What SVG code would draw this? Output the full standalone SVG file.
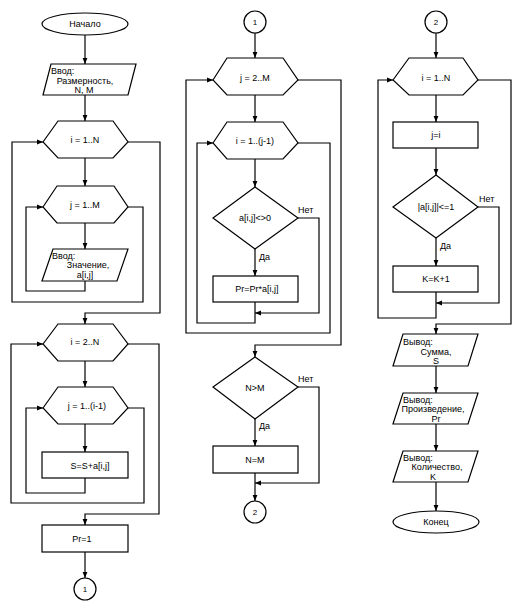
<svg xmlns="http://www.w3.org/2000/svg" width="521" height="611" viewBox="0 0 521 611">
<style>
.s{fill:#fff;stroke:#000;stroke-width:1.2}
.c{fill:none;stroke:#000;stroke-width:1.2}
text{font-family:"Liberation Sans",Arial,sans-serif;font-size:9px;fill:#000}
.m{text-anchor:middle}
</style>
<defs>
<marker id="a" markerWidth="6" markerHeight="6" refX="6" refY="3" orient="auto" markerUnits="userSpaceOnUse"><path d="M0,0.6 L6,3 L0,5.4Z" fill="#000"/></marker>
</defs>
<rect width="521" height="611" fill="#fff"/>
<g id="connectors">
<!-- left column -->
<polyline class="c" points="85,35 85,64" marker-end="url(#a)"/>
<polyline class="c" points="85,95 85,121" marker-end="url(#a)"/>
<polyline class="c" points="85,158 85,186" marker-end="url(#a)"/>
<polyline class="c" points="85,223 85,249" marker-end="url(#a)"/>
<polyline class="c" points="85,281 85,291 26,291 26,207 43,207" marker-end="url(#a)"/>
<polyline class="c" points="128,207 143,207 143,302 12,302 12,142 43,142" marker-end="url(#a)"/>
<polyline class="c" points="128,142 160,142 160,313 85,313 85,324" marker-end="url(#a)"/>
<polyline class="c" points="85,361 85,387" marker-end="url(#a)"/>
<polyline class="c" points="85,424 85,452" marker-end="url(#a)"/>
<polyline class="c" points="85,478 85,493 26,493 26,408 43,408" marker-end="url(#a)"/>
<polyline class="c" points="128,408 144,408 144,503 11,503 11,344 43,344" marker-end="url(#a)"/>
<polyline class="c" points="128,344 159,344 159,514 85,514 85,525" marker-end="url(#a)"/>
<polyline class="c" points="85,552 85,578" marker-end="url(#a)"/>
<!-- middle column -->
<polyline class="c" points="255,33 255,58" marker-end="url(#a)"/>
<polyline class="c" points="255,95 255,122" marker-end="url(#a)"/>
<polyline class="c" points="255,159 255,187" marker-end="url(#a)"/>
<polyline class="c" points="255,249 255,276" marker-end="url(#a)"/>
<polyline class="c" points="298,218 319,218 319,313 255,313" marker-end="url(#a)"/>
<polyline class="c" points="255,302 255,323 197,323 197,143 213,143" marker-end="url(#a)"/>
<polyline class="c" points="298,143 330,143 330,333 186,333 186,80 213,80" marker-end="url(#a)"/>
<polyline class="c" points="298,80 341,80 341,345 255,345 255,357" marker-end="url(#a)"/>
<polyline class="c" points="255,419 255,446" marker-end="url(#a)"/>
<polyline class="c" points="298,387 319,387 319,483 255,483" marker-end="url(#a)"/>
<polyline class="c" points="255,473 255,501" marker-end="url(#a)"/>
<!-- right column -->
<polyline class="c" points="436,33 436,58" marker-end="url(#a)"/>
<polyline class="c" points="436,95 436,122" marker-end="url(#a)"/>
<polyline class="c" points="436,148 436,175" marker-end="url(#a)"/>
<polyline class="c" points="436,238 436,266" marker-end="url(#a)"/>
<polyline class="c" points="478,207 499,207 499,303 436,303" marker-end="url(#a)"/>
<polyline class="c" points="436,292 436,318 378,318 378,80 393,80" marker-end="url(#a)"/>
<polyline class="c" points="478,80 511,80 511,324 436,324 436,334" marker-end="url(#a)"/>
<polyline class="c" points="436,366 436,393" marker-end="url(#a)"/>
<polyline class="c" points="436,424 436,451" marker-end="url(#a)"/>
<polyline class="c" points="436,482 436,511" marker-end="url(#a)"/>
<text x="298" y="213">Нет</text>
<text x="259" y="260">Да</text>
<text x="298" y="382">Нет</text>
<text x="259" y="429">Да</text>
<text x="479" y="202">Нет</text>
<text x="440" y="249">Да</text>
</g>
<!-- left column nodes -->
<g id="start"><ellipse class="s" cx="85" cy="24" rx="43" ry="11"/><text class="m" x="85" y="27">Начало</text></g>
<g id="input1"><polygon class="s" points="51,64 136,64 128,95 43,95"/><text x="51" y="74">Ввод:</text><text class="m" x="85" y="84">Размерность,</text><text class="m" x="84" y="93">N, M</text></g>
<g id="loopI1"><polygon class="s" points="43,142 58,121 113,121 128,142 113,158 58,158"/><text class="m" x="85" y="143">i = 1..N</text></g>
<g id="loopJ1"><polygon class="s" points="43,207 57,186 114,186 128,207 114,223 57,223"/><text class="m" x="85" y="208">j = 1..M</text></g>
<g id="input2"><polygon class="s" points="53,249 128,249 117,281 42,281"/><text x="52" y="259">Ввод:</text><text class="m" x="88" y="268">Значение,</text><text class="m" x="85" y="278">a[i,j]</text></g>
<g id="loopI2"><polygon class="s" points="43,344 58,324 113,324 128,344 113,361 58,361"/><text class="m" x="85" y="345">i = 2..N</text></g>
<g id="loopJ2"><polygon class="s" points="43,408 58,387 113,387 128,408 113,424 58,424"/><text class="m" x="87" y="409">j = 1..(i-1)</text></g>
<g id="sum"><rect class="s" x="42" y="452" width="86" height="26"/><text class="m" x="90" y="469">S=S+a[i,j]</text></g>
<g id="pr1"><rect class="s" x="42" y="525" width="86" height="27"/><text class="m" x="82" y="542">Pr=1</text></g>
<g id="conn1a"><circle class="s" cx="85" cy="589" r="11"/><text class="m" x="85" y="592" style="font-size:8px">1</text></g>
<!-- middle column nodes -->
<g id="conn1b"><circle class="s" cx="255" cy="22" r="11"/><text class="m" x="255" y="25" style="font-size:8px">1</text></g>
<g id="loopJ3"><polygon class="s" points="213,80 227,58 283,58 298,80 283,95 227,95"/><text class="m" x="255" y="81">j = 2..M</text></g>
<g id="loopI3"><polygon class="s" points="213,143 227,122 283,122 298,143 283,159 227,159"/><text class="m" x="255" y="144">i = 1..(j-1)</text></g>
<g id="cond1"><polygon class="s" points="255,187 298,218 255,249 213,218"/><text class="m" x="255" y="221">a[i,j]&lt;&gt;0</text></g>
<g id="prod"><rect class="s" x="213" y="276" width="85" height="26"/><text class="m" x="257" y="292">Pr=Pr*a[i,j]</text></g>
<g id="cond2"><polygon class="s" points="255,357 298,387 255,419 213,387"/><text class="m" x="255" y="391">N&gt;M</text></g>
<g id="nm"><rect class="s" x="213" y="446" width="85" height="27"/><text class="m" x="255" y="463">N=M</text></g>
<g id="conn2a"><circle class="s" cx="255" cy="512" r="11"/><text class="m" x="255" y="515" style="font-size:8px">2</text></g>
<!-- right column nodes -->
<g id="conn2b"><circle class="s" cx="436" cy="22" r="11"/><text class="m" x="436" y="25" style="font-size:8px">2</text></g>
<g id="loopI4"><polygon class="s" points="393,80 409,58 463,58 478,80 463,95 409,95"/><text class="m" x="436" y="81">i = 1..N</text></g>
<g id="ji"><rect class="s" x="393" y="122" width="85" height="26"/><text class="m" x="436" y="138">j=i</text></g>
<g id="cond3"><polygon class="s" points="436,175 478,207 436,238 393,207"/><text class="m" x="436" y="210">|a[i,j]|&lt;=1</text></g>
<g id="kinc"><rect class="s" x="393" y="266" width="85" height="26"/><text class="m" x="436" y="282">K=K+1</text></g>
<g id="out1"><polygon class="s" points="403,334 478,334 468,366 393,366"/><text x="403" y="345">Вывод:</text><text class="m" x="436" y="355">Сумма,</text><text class="m" x="436" y="364">S</text></g>
<g id="out2"><polygon class="s" points="403,393 478,393 468,424 393,424"/><text x="403" y="403">Вывод:</text><text class="m" x="433" y="412">Произведение,</text><text class="m" x="436" y="422">Pr</text></g>
<g id="out3"><polygon class="s" points="403,451 478,451 468,482 393,482"/><text x="403" y="461">Вывод:</text><text class="m" x="437" y="470">Количество,</text><text class="m" x="433" y="480">K</text></g>
<g id="end"><ellipse class="s" cx="436" cy="522" rx="43" ry="11"/><text class="m" x="436" y="525">Конец</text></g>
</svg>
